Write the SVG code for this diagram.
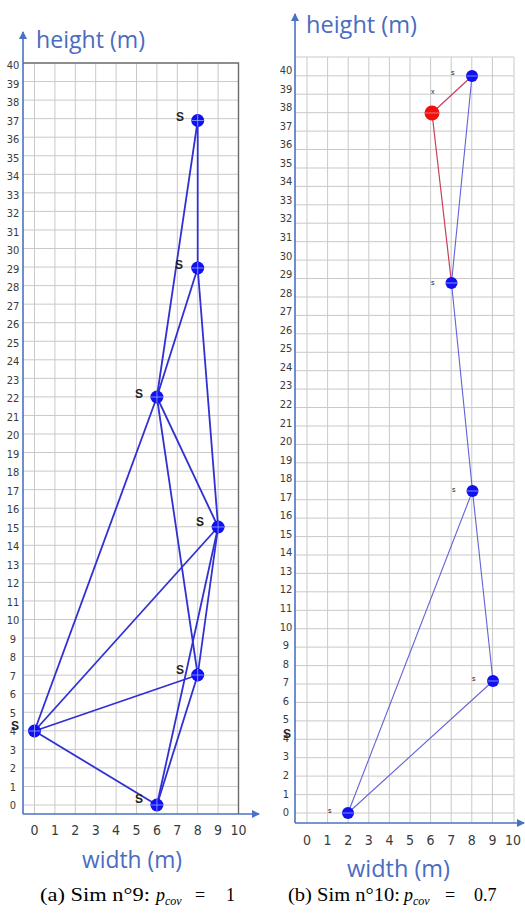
<svg xmlns="http://www.w3.org/2000/svg" width="525" height="917" viewBox="0 0 525 917">
<style>
.grid{stroke:#c9c9c9;stroke-width:1;fill:none}
.axis{stroke:#4a72c4;stroke-width:1.6;fill:none}
.frame{stroke:#6a6a6a;stroke-width:1.4;fill:none}
.tick{font-family:"Liberation Sans Narrow","DejaVu Sans Condensed","Liberation Sans",sans-serif;font-size:11px;fill:#3a3a3a;text-anchor:middle}
.xtick{font-family:"Liberation Sans Narrow","DejaVu Sans Condensed","Liberation Sans",sans-serif;font-size:14px;fill:#3a3a3a;text-anchor:middle}
.atitle{font-family:"Open Sans","Liberation Sans",sans-serif;font-size:24px;fill:#4a6cc0}
.lbl{font-family:"Liberation Sans Narrow","Liberation Sans",sans-serif;font-size:12px;fill:#222;font-weight:bold}
.lbls{font-family:"Liberation Sans",sans-serif;font-size:7px;fill:#222}
.eL{stroke:#3030d4;stroke-width:1.8;fill:none}
.eR{stroke:#6262d6;stroke-width:1.1;fill:none}
.eRed{stroke:#c8405a;stroke-width:1.2;fill:none}
.nb{fill:#1010f0}
.nr{fill:#f01010}
.cross{stroke:#9aa8ff;stroke-width:0.8}
.cap{font-family:"Liberation Serif",serif;font-size:18px;fill:#000}
.capi{font-family:"Liberation Serif",serif;font-size:18px;fill:#000;font-style:italic}
.caps{font-family:"Liberation Serif",serif;font-size:12px;fill:#000;font-style:italic}
</style>
<defs>
<marker id="arr" markerWidth="8" markerHeight="8" refX="7" refY="4" orient="auto" markerUnits="userSpaceOnUse">
<path d="M0,0 L8,4 L0,8 Z" fill="#4a72c4"/>
</marker>
</defs>

<!-- LEFT PLOT -->
<g id="left-grid">
<g class="grid">
<path d="M34.5,63V814M54.9,63V814M75.3,63V814M95.7,63V814M116.1,63V814M136.5,63V814M156.9,63V814M177.3,63V814M197.7,63V814M218.1,63V814"/>
<path d="M23,805H238.5M23,786.45H238.5M23,767.9H238.5M23,749.35H238.5M23,730.8H238.5M23,712.25H238.5M23,693.7H238.5M23,675.15H238.5M23,656.6H238.5M23,638.05H238.5M23,619.5H238.5M23,600.95H238.5M23,582.4H238.5M23,563.85H238.5M23,545.3H238.5M23,526.75H238.5M23,508.2H238.5M23,489.65H238.5M23,471.1H238.5M23,452.55H238.5M23,434H238.5M23,415.45H238.5M23,396.9H238.5M23,378.35H238.5M23,359.8H238.5M23,341.25H238.5M23,322.7H238.5M23,304.15H238.5M23,285.6H238.5M23,267.05H238.5M23,248.5H238.5M23,229.95H238.5M23,211.4H238.5M23,192.85H238.5M23,174.3H238.5M23,155.75H238.5M23,137.2H238.5M23,118.65H238.5M23,100.1H238.5M23,81.55H238.5"/>
</g>
<path class="frame" d="M23,63H238.5V814"/>
<path class="axis" d="M23,814V32" marker-end="url(#arr)"/>
<path class="axis" d="M23,814H259" marker-end="url(#arr)"/>
<g class="tick">
<text x="13" y="809">0</text><text x="13" y="790.5">1</text><text x="13" y="772">2</text><text x="13" y="753.5">3</text><text x="13" y="735">4</text><text x="13" y="716.5">5</text><text x="13" y="698">6</text><text x="13" y="679.5">7</text><text x="13" y="661">8</text><text x="13" y="642.5">9</text><text x="13" y="624">10</text><text x="13" y="605.5">11</text><text x="13" y="587">12</text><text x="13" y="568.5">13</text><text x="13" y="550">14</text><text x="13" y="531.5">15</text><text x="13" y="513">16</text><text x="13" y="494.5">17</text><text x="13" y="476">18</text><text x="13" y="457.5">19</text><text x="13" y="439">20</text><text x="13" y="420.5">21</text><text x="13" y="402">22</text><text x="13" y="383.5">23</text><text x="13" y="365">24</text><text x="13" y="346.5">25</text><text x="13" y="328">26</text><text x="13" y="309.5">27</text><text x="13" y="291">28</text><text x="13" y="272.5">29</text><text x="13" y="254">30</text><text x="13" y="235.5">31</text><text x="13" y="217">32</text><text x="13" y="198.5">33</text><text x="13" y="180">34</text><text x="13" y="161.5">35</text><text x="13" y="143">36</text><text x="13" y="124.5">37</text><text x="13" y="106">38</text><text x="13" y="87.5">39</text><text x="13" y="69">40</text>
</g>
<g class="xtick">
<text x="34.5" y="835">0</text><text x="54.9" y="835">1</text><text x="75.3" y="835">2</text><text x="95.7" y="835">3</text><text x="116.1" y="835">4</text><text x="136.5" y="835">5</text><text x="156.9" y="835">6</text><text x="177.3" y="835">7</text><text x="197.7" y="835">8</text><text x="218.1" y="835">9</text><text x="238.5" y="835">10</text>
</g>
<text class="atitle" x="36" y="48" textLength="109" lengthAdjust="spacingAndGlyphs">height (m)</text>
<text class="atitle" x="82" y="868" textLength="100" lengthAdjust="spacingAndGlyphs">width (m)</text>
</g>

<g id="left-connectors">
<path class="eL" d="M197.7,120.5L156.9,397"/>
<path class="eL" d="M197.7,120.5L197.7,268"/>
<path class="eL" d="M197.7,268L156.9,397"/>
<path class="eL" d="M197.7,268L218.1,527"/>
<path class="eL" d="M156.9,397L218.1,527"/>
<path class="eL" d="M156.9,397L34.5,731"/>
<path class="eL" d="M156.9,397L197.7,675"/>
<path class="eL" d="M218.1,527L34.5,731"/>
<path class="eL" d="M218.1,527L197.7,675"/>
<path class="eL" d="M218.1,527L156.9,805"/>
<path class="eL" d="M197.7,675L34.5,731"/>
<path class="eL" d="M34.5,731L156.9,805"/>
<path class="eL" d="M156.9,805L197.7,675"/>
</g>

<g id="L-n37"><circle class="nb" cx="197.7" cy="120.5" r="6.5"/><path class="cross" d="M191.7,120.5h12M197.7,114.5v12"/><text class="lbl" x="176" y="121">S</text></g>
<g id="L-n29"><circle class="nb" cx="197.7" cy="268" r="6.5"/><path class="cross" d="M191.7,268h12M197.7,262v12"/><text class="lbl" x="175" y="269">S</text></g>
<g id="L-n22"><circle class="nb" cx="156.9" cy="397" r="6.5"/><path class="cross" d="M150.9,397h12M156.9,391v12"/><text class="lbl" x="135" y="398">S</text></g>
<g id="L-n15"><circle class="nb" cx="218.1" cy="527" r="6.5"/><path class="cross" d="M212.1,527h12M218.1,521v12"/><text class="lbl" x="196" y="526">S</text></g>
<g id="L-n7"><circle class="nb" cx="197.7" cy="675" r="6.5"/><path class="cross" d="M191.7,675h12M197.7,669v12"/><text class="lbl" x="176" y="674">S</text></g>
<g id="L-n4"><circle class="nb" cx="34.5" cy="731" r="6.5"/><path class="cross" d="M28.5,731h12M34.5,725v12"/><text class="lbl" x="11" y="730">S</text></g>
<g id="L-n0"><circle class="nb" cx="156.9" cy="805" r="6.5"/><path class="cross" d="M150.9,805h12M156.9,799v12"/><text class="lbl" x="135" y="803">S</text></g>

<!-- RIGHT PLOT -->
<g id="right-grid">
<g class="grid">
<path d="M307,57V823M327.6,57V823M348.2,57V823M368.8,57V823M389.4,57V823M410,57V823M430.6,57V823M451.2,57V823M471.8,57V823M492.4,57V823"/>
<path d="M295,813H514M295,794.6H514M295,776.1H514M295,757.7H514M295,739.3H514M295,720.9H514M295,702.4H514M295,684H514M295,665.6H514M295,647.1H514M295,628.7H514M295,610.3H514M295,591.8H514M295,573.4H514M295,555H514M295,536.6H514M295,518.1H514M295,499.7H514M295,481.3H514M295,462.8H514M295,444.4H514M295,426H514M295,407.5H514M295,389.1H514M295,370.7H514M295,352.3H514M295,333.8H514M295,315.4H514M295,297H514M295,278.5H514M295,260.1H514M295,241.7H514M295,223.2H514M295,204.8H514M295,186.4H514M295,168H514M295,149.5H514M295,131.1H514M295,112.7H514M295,94.2H514M295,75.8H514M295,57H514M514,57V823"/>
</g>
<path class="axis" d="M295,823V14" marker-end="url(#arr)"/>
<path class="axis" d="M295,823H524" marker-end="url(#arr)"/>
<g class="tick">
<text x="286" y="816">0</text><text x="286" y="797.5">1</text><text x="286" y="779">2</text><text x="286" y="760.4">3</text><text x="286" y="741.8">4</text><text x="286" y="723.3">5</text><text x="286" y="704.7">6</text><text x="286" y="686.2">7</text><text x="286" y="667.6">8</text><text x="286" y="649">9</text><text x="286" y="630.5">10</text><text x="286" y="612">11</text><text x="286" y="593.4">12</text><text x="286" y="574.9">13</text><text x="286" y="556.3">14</text><text x="286" y="537.8">15</text><text x="286" y="519.2">16</text><text x="286" y="500.7">17</text><text x="286" y="482.1">18</text><text x="286" y="463.6">19</text><text x="286" y="445">20</text><text x="286" y="426.5">21</text><text x="286" y="407.9">22</text><text x="286" y="389.4">23</text><text x="286" y="370.8">24</text><text x="286" y="352.3">25</text><text x="286" y="333.7">26</text><text x="286" y="315.2">27</text><text x="286" y="296.6">28</text><text x="286" y="278.1">29</text><text x="286" y="259.5">30</text><text x="286" y="241">31</text><text x="286" y="222.4">32</text><text x="286" y="203.9">33</text><text x="286" y="185.3">34</text><text x="286" y="166.8">35</text><text x="286" y="148.2">36</text><text x="286" y="129.7">37</text><text x="286" y="111.1">38</text><text x="286" y="92.6">39</text><text x="286" y="74">40</text>
</g>
<text class="lbl" x="283" y="738">S</text>
<g class="xtick">
<text x="307" y="845">0</text><text x="327.6" y="845">1</text><text x="348.2" y="845">2</text><text x="368.8" y="845">3</text><text x="389.4" y="845">4</text><text x="410" y="845">5</text><text x="430.6" y="845">6</text><text x="451.2" y="845">7</text><text x="471.8" y="845">8</text><text x="492.4" y="845">9</text><text x="513" y="845">10</text>
</g>
<text class="atitle" x="306" y="33" textLength="111" lengthAdjust="spacingAndGlyphs">height (m)</text>
<text class="atitle" x="347" y="877" textLength="103" lengthAdjust="spacingAndGlyphs">width (m)</text>
</g>

<g id="right-connectors">
<path class="eRed" d="M472,76L432,113"/>
<path class="eRed" d="M432,113L451.5,283"/>
<path class="eR" d="M472,76L451.5,283"/>
<path class="eR" d="M451.5,283L472.5,491"/>
<path class="eR" d="M472.5,491L493,681"/>
<path class="eR" d="M472.5,491L348,813"/>
<path class="eR" d="M493,681L348,813"/>
</g>

<g id="R-n40"><circle class="nb" cx="472" cy="76" r="6"/><path class="cross" d="M466.5,76h11"/><text class="lbls" x="451" y="75">s</text></g>
<g id="R-red"><circle class="nr" cx="432" cy="113" r="7.5"/><path d="M425,113h14" stroke="#f09090" stroke-width="0.8"/><text class="lbls" x="431" y="94">x</text></g>
<g id="R-n28"><circle class="nb" cx="451.5" cy="283" r="6"/><path class="cross" d="M446,283h11"/><text class="lbls" x="431" y="285">s</text></g>
<g id="R-n17"><circle class="nb" cx="472.5" cy="491" r="6"/><path class="cross" d="M467,491h11"/><text class="lbls" x="452" y="492">s</text></g>
<g id="R-n7"><circle class="nb" cx="493" cy="681" r="6"/><path class="cross" d="M487.5,681h11"/><text class="lbls" x="472" y="681">s</text></g>
<g id="R-n0"><circle class="nb" cx="348" cy="813" r="6"/><path class="cross" d="M342.5,813h11"/><text class="lbls" x="328" y="813">s</text></g>

<g id="captions">
<text class="cap" x="40" y="901" textLength="110" lengthAdjust="spacingAndGlyphs">(a) Sim n°9:</text>
<text class="capi" x="156" y="901">p</text>
<text class="caps" x="165" y="905">cov</text>
<text class="cap" x="195" y="901">=</text>
<text class="cap" x="226" y="901">1</text>
<text class="cap" x="288" y="901" textLength="112" lengthAdjust="spacingAndGlyphs">(b) Sim n°10:</text>
<text class="capi" x="404" y="901">p</text>
<text class="caps" x="413" y="905">cov</text>
<text class="cap" x="445" y="901">=</text>
<text class="cap" x="474" y="901">0.7</text>
</g>
</svg>
